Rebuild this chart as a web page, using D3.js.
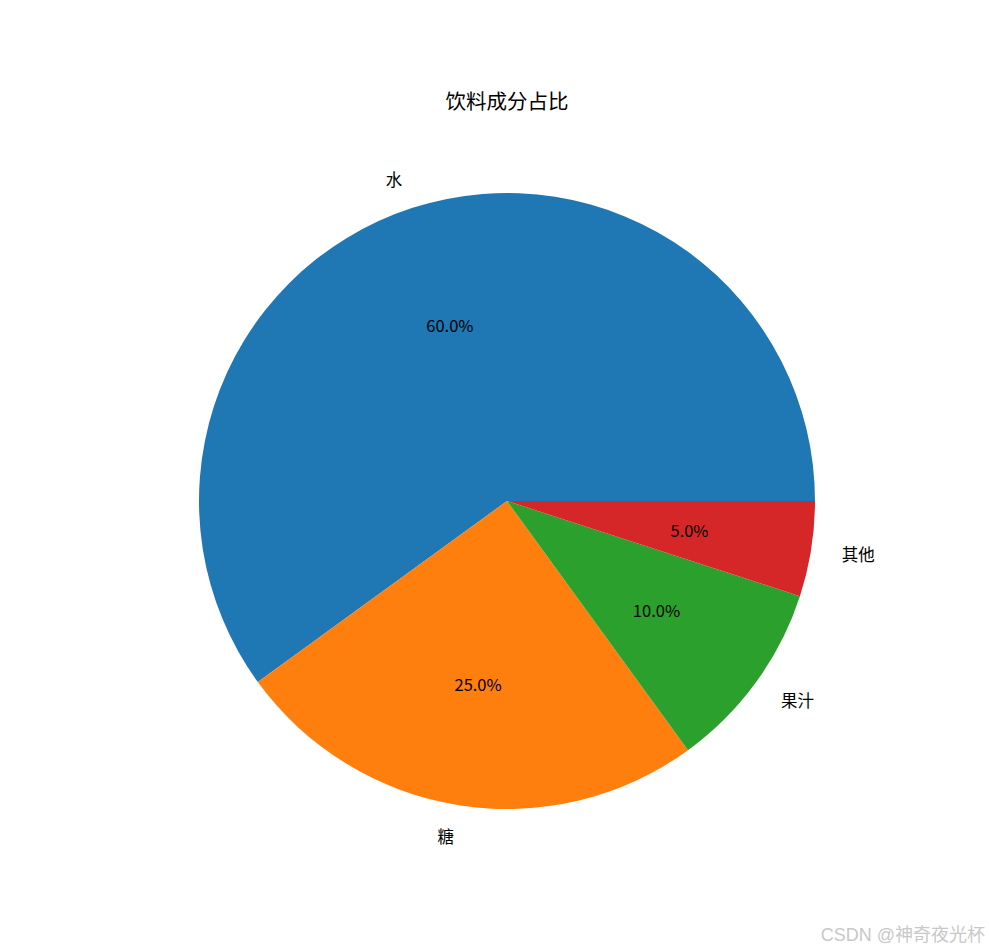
<!DOCTYPE html>
<html>
<head>
<meta charset="utf-8">
<script src="https://cdn.jsdelivr.net/npm/d3@7"></script>
<style>
  html, body { margin: 0; padding: 0; background: #fff; }
  svg { display: block; font-family: "Noto Sans CJK SC", "Noto Sans", sans-serif; }
</style>
</head>
<body>
<svg id="chart" width="989" height="952"></svg>
<script>
const categories = ["水", "糖", "果汁", "其他"];
const values = [60, 25, 10, 5];
const colors = ["#1f77b4", "#ff7f0e", "#2ca02c", "#d62728"];
const title = "饮料成分占比";
const watermark = "CSDN @神奇夜光杯";

const W = 989, H = 952;
const cx = 507, cy = 501, R = 308;
const svg = d3.select("#chart");

const total = d3.sum(values);
// matplotlib: start at 0 rad (east), counter-clockwise.
const pie = d3.pie().sort(null).value(d => d)
  .startAngle(Math.PI / 2).endAngle(Math.PI / 2 - 2 * Math.PI);
const arcs = pie(values);
const arc = d3.arc().innerRadius(0).outerRadius(R);
const color = d3.scaleOrdinal().domain(categories).range(colors);

const g = svg.append("g").attr("transform", `translate(${cx},${cy})`);
g.selectAll("path").data(arcs).enter().append("path")
  .attr("d", arc)
  .attr("fill", (d, i) => color(categories[i]));

function pos(d, r) {
  const a = (d.startAngle + d.endAngle) / 2;
  return [r * Math.sin(a), -r * Math.cos(a)];
}

g.selectAll("text.lab").data(arcs).enter().append("text")
  .attr("class", "lab")
  .each(function(d, i) {
    const [x, y] = pos(d, 1.1 * R);
    d3.select(this)
      .attr("x", x).attr("y", y)
      .attr("text-anchor", x < 0 ? "end" : "start")
      .attr("dominant-baseline", "central")
      .attr("font-size", 16.5)
      .attr("fill", "#000")
      .text(categories[i]);
  });

g.selectAll("text.pct").data(arcs).enter().append("text")
  .attr("class", "pct")
  .each(function(d, i) {
    const [x, y] = pos(d, 0.6 * R);
    d3.select(this)
      .attr("x", x).attr("y", y)
      .attr("text-anchor", "middle")
      .attr("dominant-baseline", "central")
      .attr("font-size", 16.5)
      .attr("fill", "#000")
      .text(d3.format(".1f")(values[i] / total * 100) + "%");
  });

svg.append("text")
  .attr("x", cx).attr("y", 100)
  .attr("text-anchor", "middle")
  .attr("dominant-baseline", "central")
  .attr("font-size", 20.5)
  .attr("fill", "#000")
  .text(title);

svg.append("text")
  .attr("x", 985).attr("y", 941)
  .attr("text-anchor", "end")
  .attr("font-size", 18)
  .attr("font-family", "'Liberation Sans', 'Noto Sans CJK SC', sans-serif")
  .attr("fill", "#c8c8c8")
  .text(watermark);
</script>
</body>
</html>
